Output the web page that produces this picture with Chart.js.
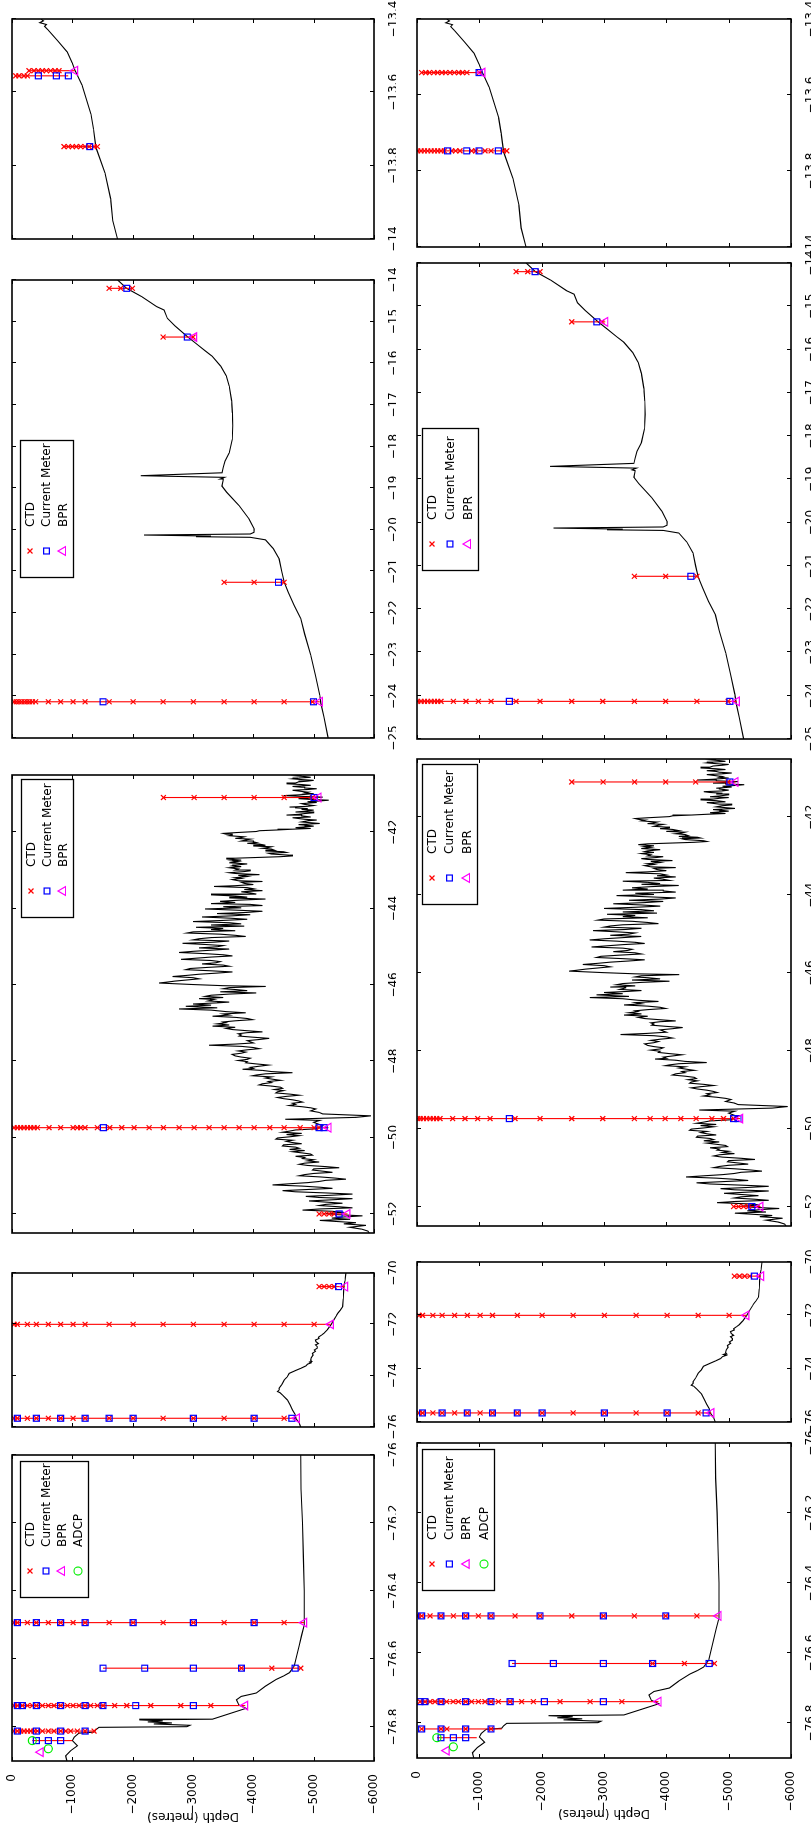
<!DOCTYPE html>
<html>
<head>
<meta charset="utf-8">
<script src="https://cdn.jsdelivr.net/npm/chart.js@4.4.1/dist/chart.umd.min.js"></script>
<style>
  html, body { margin: 0; padding: 0; background: #fff; overflow: hidden; width: 811px; height: 1831px; }
  /* the figure is laid out landscape and turned a quarter turn, like the original */
  #fig { position: absolute; left: 0; top: 0; width: 1831px; height: 811px; background: #fff;
         transform-origin: 0 0; transform: translate(0px, 1831px) rotate(-90deg); }
  #fig canvas { position: absolute; }
</style>
</head>
<body>
<div id="fig"></div>
<script>
// ---- axes ----
const lonRanges = [[-76.9, -76], [-76, -70], [-52.5, -40.5], [-25, -14], [-14, -13.4]];
const lonTicks = [
  [-76.8, -76.6, -76.4, -76.2, -76],
  [-76, -74, -72, -70],
  [-52, -50, -48, -46, -44, -42],
  [-25, -24, -23, -22, -21, -20, -19, -18, -17, -16, -15, -14],
  [-14, -13.8, -13.6, -13.4]
];
const depthTicks = [0, -1000, -2000, -3000, -4000, -5000, -6000];

// ---- bathymetry, [longitude, depth in metres] ----
const bathy = [
  // -76.9 .. -76
  [-76.900, 910], [-76.885, 890], [-76.870, 970], [-76.855, 1085], [-76.840, 1000], [-76.830, 1030],
  [-76.818, 1110], [-76.815, 1360], [-76.808, 1390], [-76.801, 1440], [-76.799, 2900], [-76.795, 2950],
  [-76.791, 2350], [-76.788, 2650], [-76.785, 2250], [-76.782, 2500], [-76.779, 2110], [-76.777, 3320],
  [-76.745, 3880], [-76.735, 3760], [-76.720, 3720], [-76.710, 3800], [-76.700, 4050], [-76.680, 4200],
  [-76.660, 4380], [-76.650, 4500], [-76.640, 4600], [-76.620, 4680], [-76.590, 4720], [-76.560, 4760],
  [-76.530, 4800], [-76.500, 4845], [-76.400, 4845], [-76.300, 4830], [-76.200, 4815], [-76.100, 4790],
  [-76.000, 4785],
  // -76 .. -70
  [-75.85, 4760], [-75.66, 4705], [-75.50, 4690], [-75.34, 4650], [-75.15, 4610], [-74.95, 4566],
  [-74.75, 4483], [-74.66, 4440], [-74.62, 4400], [-74.55, 4430], [-74.49, 4428], [-74.35, 4470],
  [-74.17, 4511], [-74.05, 4560], [-73.91, 4595], [-73.80, 4700], [-73.71, 4790], [-73.62, 4870],
  [-73.55, 4900], [-73.50, 4960], [-73.47, 4920], [-73.45, 4970], [-73.40, 4950], [-73.30, 4960],
  [-73.20, 4990], [-73.13, 4980], [-73.05, 5030], [-73.00, 5010], [-72.93, 5060], [-72.87, 5060],
  [-72.80, 5030], [-72.75, 5080], [-72.68, 5040], [-72.61, 5030], [-72.55, 5090], [-72.50, 5080],
  [-72.42, 5130], [-72.35, 5170], [-72.20, 5230], [-72.00, 5290], [-71.80, 5340], [-71.65, 5380],
  [-71.57, 5400], [-71.45, 5440], [-71.31, 5480], [-71.00, 5490], [-70.52, 5500], [-70.30, 5520],
  [-70.00, 5534],
  // -52.5 .. -40.5
  [-52.50, 5920], [-52.45, 5900], [-52.40, 5800], [-52.35, 5600], [-52.30, 5865], [-52.26, 5500],
  [-52.23, 5700], [-52.20, 5400], [-52.17, 5100], [-52.14, 5600], [-52.11, 5300], [-52.08, 5500],
  [-52.05, 5810], [-52.02, 5400], [-51.99, 5200], [-51.96, 5500], [-51.93, 5300], [-51.90, 4815],
  [-51.87, 5100], [-51.84, 5644], [-51.81, 5400], [-51.78, 5091], [-51.75, 5200], [-51.72, 5478],
  [-51.69, 5200], [-51.66, 4925], [-51.63, 5300], [-51.60, 5644], [-51.57, 5100], [-51.54, 4870],
  [-51.51, 5300], [-51.48, 5644], [-51.45, 5200], [-51.42, 4700], [-51.39, 4483], [-51.36, 4900],
  [-51.33, 5312], [-51.30, 5100], [-51.27, 4800], [-51.24, 4317], [-51.21, 4600], [-51.18, 4900],
  [-51.15, 5091], [-51.12, 5200], [-51.09, 5534], [-51.06, 5350], [-51.03, 5100], [-51.00, 4760],
  [-50.97, 4850], [-50.94, 5000], [-50.91, 5312], [-50.88, 5150], [-50.85, 4981], [-50.82, 5000],
  [-50.79, 5423], [-50.76, 5200], [-50.73, 4900], [-50.70, 4760], [-50.67, 4850], [-50.64, 5091],
  [-50.61, 4900], [-50.58, 5000], [-50.55, 4815], [-50.52, 4850], [-50.49, 4700], [-50.46, 4981],
  [-50.43, 4950], [-50.40, 4800], [-50.37, 4649], [-50.34, 4850], [-50.31, 4600], [-50.28, 4760],
  [-50.25, 4700], [-50.22, 4483], [-50.19, 4500], [-50.16, 4800], [-50.13, 4649], [-50.10, 4550],
  [-50.07, 4650], [-50.04, 4373], [-50.01, 4400], [-49.98, 4600], [-49.95, 4760], [-49.92, 4550],
  [-49.89, 4800], [-49.86, 4483], [-49.83, 4600], [-49.80, 4700], [-49.77, 5036], [-49.69, 5150],
  [-49.60, 5000], [-49.55, 5100], [-49.52, 4530], [-49.47, 5700], [-49.43, 5948], [-49.38, 5150],
  [-49.34, 5091], [-49.30, 4950], [-49.25, 5036], [-49.22, 4950], [-49.19, 4800], [-49.16, 4594],
  [-49.13, 4700], [-49.10, 4650], [-49.07, 4815], [-49.04, 4750], [-49.01, 4650], [-48.98, 4500],
  [-48.95, 4400], [-48.92, 4550], [-48.89, 4760], [-48.86, 4600], [-48.83, 4373], [-48.80, 4400],
  [-48.77, 4500], [-48.74, 4350], [-48.71, 4483], [-48.68, 4450], [-48.65, 4300], [-48.62, 4096],
  [-48.59, 4150], [-48.56, 4300], [-48.53, 4250], [-48.50, 4450], [-48.47, 4317], [-48.44, 4200],
  [-48.41, 4300], [-48.38, 3986], [-48.36, 4050], [-48.33, 4200], [-48.30, 4649], [-48.27, 4300],
  [-48.24, 4150], [-48.21, 3820], [-48.19, 4000], [-48.16, 3950], [-48.13, 4100], [-48.10, 4250],
  [-48.07, 4050], [-48.04, 3875], [-48.01, 3900], [-47.98, 3750], [-47.95, 3900], [-47.92, 3950],
  [-47.89, 3800], [-47.86, 3700], [-47.82, 3650], [-47.79, 3800], [-47.76, 3875], [-47.73, 3750],
  [-47.70, 3900], [-47.67, 4096], [-47.64, 4000], [-47.61, 3800], [-47.58, 3267], [-47.55, 3700],
  [-47.52, 4000], [-47.49, 3950], [-47.46, 3900], [-47.43, 4100], [-47.40, 4262], [-47.37, 4000],
  [-47.34, 3765], [-47.31, 3800], [-47.28, 3750], [-47.25, 3900], [-47.23, 4150], [-47.20, 3900],
  [-47.17, 3654], [-47.14, 3550], [-47.11, 3700], [-47.08, 3322], [-47.05, 3600], [-47.02, 3400],
  [-46.99, 3543], [-46.97, 3500], [-46.94, 3700], [-46.91, 3986], [-46.88, 3900], [-46.85, 3700],
  [-46.82, 3322], [-46.79, 3600], [-46.76, 3500], [-46.73, 3875], [-46.70, 3550], [-46.66, 3300],
  [-46.63, 2770], [-46.60, 3400], [-46.56, 2880], [-46.53, 3300], [-46.50, 3000], [-46.47, 3400],
  [-46.45, 3600], [-46.42, 3250], [-46.38, 3350], [-46.36, 3100], [-46.33, 3500], [-46.30, 3200],
  [-46.27, 3300], [-46.24, 3600], [-46.21, 4050], [-46.18, 3450], [-46.15, 3900], [-46.12, 3700],
  [-46.10, 3500], [-46.07, 3600], [-46.04, 4207], [-46.02, 3500], [-45.99, 3000], [-45.95, 2438],
  [-45.93, 2550], [-45.90, 2700], [-45.87, 2900], [-45.84, 3101], [-45.81, 3000], [-45.78, 2659],
  [-45.75, 2900], [-45.72, 3100], [-45.69, 3400], [-45.66, 3654], [-45.63, 3300], [-45.60, 2880],
  [-45.57, 2950], [-45.54, 3250], [-45.51, 3599], [-45.48, 3500], [-45.45, 3150], [-45.42, 3378],
  [-45.39, 3450], [-45.36, 3300], [-45.33, 2800], [-45.30, 3050], [-45.27, 3300], [-45.24, 3654],
  [-45.21, 3500], [-45.18, 3200], [-45.15, 2770], [-45.12, 3000], [-45.09, 3300], [-45.06, 3599],
  [-45.03, 3100], [-45.00, 3400], [-44.97, 3500], [-44.94, 3200], [-44.91, 2825], [-44.88, 3350],
  [-44.85, 3600], [-44.82, 3000], [-44.79, 3100], [-44.76, 3300], [-44.73, 3875], [-44.70, 3700],
  [-44.67, 3450], [-44.64, 2900], [-44.61, 3000], [-44.58, 3700], [-44.55, 3300], [-44.52, 3500],
  [-44.49, 3050], [-44.46, 3850], [-44.43, 3300], [-44.40, 3800], [-44.37, 3600], [-44.34, 3000],
  [-44.31, 3500], [-44.28, 3900], [-44.25, 3600], [-44.22, 3150], [-44.19, 3650], [-44.16, 3950],
  [-44.13, 3400], [-44.10, 3900], [-44.07, 4150], [-44.04, 3700], [-44.01, 3200], [-43.98, 3800],
  [-43.95, 3500], [-43.92, 4150], [-43.89, 3950], [-43.87, 3300], [-43.84, 3700], [-43.81, 3450],
  [-43.78, 3750], [-43.75, 4200], [-43.72, 3600], [-43.70, 3900], [-43.67, 3700], [-43.64, 3300],
  [-43.62, 4050], [-43.59, 3950], [-43.56, 3800], [-43.53, 4150], [-43.50, 3850], [-43.48, 4000],
  [-43.45, 3900], [-43.42, 3350], [-43.40, 3700], [-43.37, 4000], [-43.34, 3850], [-43.31, 3800],
  [-43.29, 4150], [-43.27, 3750], [-43.24, 3650], [-43.21, 3800], [-43.19, 3700], [-43.16, 3900],
  [-43.13, 3750], [-43.11, 4100], [-43.08, 3700], [-43.06, 3600], [-43.03, 3850], [-43.01, 3950],
  [-42.99, 3700], [-42.96, 3750], [-42.93, 3600], [-42.90, 3800], [-42.88, 3650], [-42.86, 3700],
  [-42.83, 3900], [-42.80, 3600], [-42.77, 3750], [-42.75, 3650], [-42.73, 3800], [-42.70, 3550],
  [-42.68, 3700], [-42.64, 4450], [-42.62, 4650], [-42.60, 4600], [-42.57, 4300], [-42.55, 4250],
  [-42.53, 4550], [-42.51, 4500], [-42.49, 4200], [-42.47, 4350], [-42.44, 4300], [-42.42, 4150],
  [-42.40, 4250], [-42.38, 4300], [-42.36, 4000], [-42.34, 4200], [-42.31, 4100], [-42.29, 3900],
  [-42.27, 4050], [-42.25, 4000], [-42.23, 3800], [-42.21, 3850], [-42.18, 3950], [-42.16, 3700],
  [-42.14, 3800], [-42.12, 3850], [-42.09, 3600], [-42.07, 3650], [-42.05, 3550], [-42.03, 3500],
  [-42.01, 3700], [-41.98, 4050], [-41.96, 4100], [-41.94, 4400], [-41.92, 4650], [-41.90, 4950],
  [-41.88, 4700], [-41.86, 4850], [-41.84, 5000], [-41.82, 4900], [-41.80, 4750], [-41.77, 5100],
  [-41.75, 4950], [-41.73, 4800], [-41.70, 4900], [-41.68, 5050], [-41.66, 4850], [-41.64, 4750],
  [-41.62, 4650], [-41.60, 4950], [-41.57, 4800], [-41.55, 4550], [-41.53, 4750], [-41.51, 4850],
  [-41.49, 5000], [-41.47, 4700], [-41.45, 4850], [-41.42, 5000], [-41.40, 4800], [-41.38, 4900],
  [-41.36, 4700], [-41.34, 4600], [-41.32, 4900], [-41.30, 5000], [-41.27, 4850], [-41.25, 4800],
  [-41.22, 5050], [-41.20, 4900], [-41.18, 5100], [-41.16, 5250], [-41.14, 4950], [-41.12, 4750],
  [-41.10, 4950], [-41.08, 5150], [-41.06, 4800], [-41.04, 4500], [-41.02, 4750], [-40.99, 5000],
  [-40.97, 4850], [-40.95, 4900], [-40.92, 4750], [-40.90, 4650], [-40.88, 4900], [-40.86, 5050],
  [-40.84, 4850], [-40.82, 4800], [-40.80, 4650], [-40.77, 4950], [-40.75, 4800], [-40.73, 4550],
  [-40.71, 4700], [-40.68, 4750], [-40.66, 4900], [-40.64, 5000], [-40.62, 4800], [-40.60, 4650],
  [-40.58, 4750], [-40.56, 4950], [-40.54, 4850], [-40.52, 4700], [-40.50, 4800],
  // -25 .. -14
  [-25.00, 5240], [-24.50, 5170], [-24.17, 5120], [-23.97, 5100], [-23.50, 5030], [-23.01, 4953],
  [-22.50, 4850], [-22.13, 4787], [-21.82, 4677], [-21.50, 4580], [-21.26, 4511], [-21.00, 4470],
  [-20.70, 4428], [-20.45, 4330], [-20.24, 4200], [-20.18, 3950], [-20.165, 3050], [-20.15, 3300],
  [-20.125, 2190], [-20.10, 3950], [-20.06, 4010], [-19.98, 4013], [-19.74, 3930], [-19.42, 3764],
  [-19.10, 3560], [-18.95, 3480], [-18.80, 3500], [-18.78, 3450], [-18.74, 3520], [-18.70, 2134],
  [-18.63, 3480], [-18.50, 3500], [-18.35, 3530], [-18.15, 3600], [-17.83, 3650], [-17.50, 3660],
  [-17.19, 3653], [-16.90, 3640], [-16.55, 3600], [-16.30, 3550], [-16.07, 3460], [-15.83, 3317],
  [-15.70, 3200], [-15.52, 3046], [-15.36, 2907], [-15.10, 2700], [-14.92, 2575], [-14.72, 2520],
  [-14.64, 2400], [-14.40, 2150], [-14.20, 1900], [-14.00, 1750],
  // -14 .. -13.4
  [-13.95, 1670], [-13.89, 1635], [-13.82, 1540], [-13.75, 1390], [-13.70, 1350], [-13.66, 1310],
  [-13.62, 1235], [-13.58, 1160], [-13.54, 1045], [-13.52, 1000], [-13.49, 915], [-13.46, 760],
  [-13.43, 600], [-13.42, 540], [-13.415, 570], [-13.41, 460], [-13.405, 520], [-13.40, 480]
];

// ---- moorings, upper row: [longitude, top depth, bottom depth] and [longitude, [depths]] ----
const mooringsTop = [
  [-13.541, 282, 1045], [-13.555, 61, 934], [-13.748, 862, 1415],
  [-14.2, 1609, 1995], [-15.37, 2504, 3018], [-21.26, 3516, 4511], [-24.13, 33, 5102],
  [-41.09, 2510, 5080], [-49.74, 33, 5246], [-52.0, 5090, 5560],
  [-70.53, 5091, 5520], [-72.0, 33, 5285], [-75.66, 33, 4721],
  [-76.493, 33, 4843], [-76.627, 1509, 4787], [-76.737, 33, 3864], [-76.812, 33, 1390], [-76.84, 337, 1000]
];
const ctdTop = [
  [-13.541, [282, 365, 436, 502, 569, 641, 713, 780]],
  [-13.555, [61, 116, 199, 254]],
  [-13.748, [862, 934, 1000, 1066, 1139, 1211, 1277, 1360, 1415]],
  [-14.2, [1609, 1802, 1995]],
  [-15.37, [2504, 3000]],
  [-21.26, [3516, 4013, 4511]],
  [-24.13, [33, 72, 116, 160, 205, 249, 293, 337, 392, 602, 807, 1012, 1211, 1609, 2007, 2504, 3007, 3516, 4013, 4511, 4980]],
  [-41.09, [2510, 3018, 3516, 4013, 4511, 4980]],
  [-49.74, [33, 88, 144, 199, 254, 310, 365, 420, 614, 807, 1012, 1083, 1139, 1211, 1415, 1620, 1819, 2023, 2272, 2510, 2770, 3018, 3267, 3516, 3764, 4013, 4273, 4511, 4776, 5008, 5091]],
  [-52.0, [5090, 5174, 5257, 5340]],
  [-70.53, [5091, 5174, 5257, 5340]],
  [-72.0, [33, 88, 254, 403, 602, 807, 1012, 1211, 1609, 2007, 2504, 3007, 3516, 4013, 4511, 5008]],
  [-75.66, [33, 88, 254, 403, 602, 807, 1012, 1211, 1609, 2007, 2504, 3007, 3516, 4013, 4511]],
  [-76.493, [33, 88, 254, 403, 602, 807, 1012, 1211, 1609, 2007, 2504, 3007, 3516, 4013, 4511]],
  [-76.627, [3803, 4306, 4787]],
  [-76.737, [33, 88, 171, 254, 337, 403, 503, 602, 696, 807, 918, 1012, 1111, 1211, 1304, 1415, 1509, 1702, 1902, 2300, 2797, 3295]],
  [-76.812, [33, 88, 144, 199, 254, 310, 365, 420, 503, 602, 696, 807, 890, 973, 1083, 1211, 1360]]
];
const cmTop = [
  [-13.555, [436, 735, 934]], [-13.748, [1288]], [-14.2, [1902]], [-15.37, [2905]], [-21.26, [4417]],
  [-24.13, [1509, 4997]], [-41.09, [5008]], [-49.74, [1514, 5091, 5174]], [-52.0, [5423]], [-70.53, [5412]],
  [-75.66, [88, 403, 807, 1211, 1609, 2007, 3007, 4013, 4638]],
  [-76.493, [88, 403, 807, 1211, 2007, 3007, 4013]],
  [-76.627, [1509, 2200, 3007, 3803, 4693]],
  [-76.737, [88, 171, 403, 807, 1211, 1509, 2051, 3007]],
  [-76.812, [88, 403, 807, 1211]], [-76.84, [403, 602, 807]]
];
const bprTop = [
  [-13.541, [1045]], [-15.37, [3018]], [-24.13, [5102]], [-41.09, [5080]], [-49.74, [5246]], [-52.0, [5560]],
  [-70.53, [5520]], [-72.0, [5285]], [-75.66, [4721]], [-76.493, [4843]], [-76.737, [3864]], [-76.874, [476]]
];
const adcpTop = [[-76.84, [337]], [-76.864, [602]]];

// ---- moorings, lower row ----
const mooringsBottom = [
  [-13.541, 75, 1048], [-13.747, 11, 1440],
  [-14.2, 1589, 1974], [-15.36, 2483, 3020], [-21.24, 3488, 4490], [-24.13, 11, 5131],
  [-41.09, 2483, 5110], [-49.74, 10, 5185], [-52.0, 5080, 5510],
  [-70.53, 5091, 5520], [-72.0, 33, 5285], [-75.66, 33, 4721],
  [-76.494, 21, 4837], [-76.63, 1525, 4772], [-76.739, 48, 3874], [-76.817, 75, 1360], [-76.842, 320, 960]
];
const ctdBottom = [
  [-13.541, [75, 140, 200, 270, 330, 400, 460, 530, 600, 670, 730, 800, 1000]],
  [-13.747, [11, 64, 118, 171, 225, 278, 332, 385, 439, 557, 620, 690, 877, 942, 1091, 1188, 1386, 1440]],
  [-14.2, [1589, 1777, 1974]], [-15.36, [2483, 2970]], [-21.24, [3488, 3990, 4490]],
  [-24.13, [11, 64, 118, 171, 225, 278, 332, 385, 583, 786, 984, 1188, 1589, 1974, 2483, 2980, 3488, 3990, 4490, 4990]],
  [-41.09, [2483, 2986, 3490, 3990, 4470, 4990]],
  [-49.74, [10, 48, 102, 155, 209, 262, 316, 369, 573, 770, 974, 1172, 1573, 1974, 2483, 2980, 3488, 3740, 3981, 4232, 4478, 4730, 4917, 5078]],
  [-52.0, [5080, 5160, 5240, 5320]],
  [-70.53, [5091, 5174, 5257, 5340]],
  [-72.0, [33, 88, 254, 403, 602, 807, 1012, 1211, 1609, 2007, 2504, 3007, 3516, 4013, 4511, 5008]],
  [-75.66, [33, 88, 254, 403, 602, 807, 1012, 1211, 1609, 2007, 2504, 3007, 3516, 4013, 4511]],
  [-76.494, [21, 75, 209, 385, 583, 781, 984, 1188, 1573, 1974, 2483, 2991, 3488, 3990, 4490]],
  [-76.63, [3780, 4291, 4772]],
  [-76.739, [48, 128, 209, 289, 385, 476, 580, 663, 781, 877, 984, 1091, 1188, 1305, 1493, 1680, 1867, 2295, 2777, 3286]],
  [-76.817, [75, 385, 480, 781, 1188]]
];
const cmBottom = [
  [-13.541, [995]], [-13.747, [492, 798, 995, 1305]], [-14.2, [1894]], [-15.36, [2884]], [-21.24, [4393]],
  [-24.13, [1482, 5020]], [-41.09, [5020]], [-49.74, [1482, 5078, 5150]], [-52.0, [5373]], [-70.53, [5412]],
  [-75.66, [88, 403, 807, 1211, 1609, 2007, 3007, 4013, 4638]],
  [-76.494, [75, 385, 781, 1188, 1974, 2991, 3990]],
  [-76.63, [1525, 2188, 2991, 3780, 4687]],
  [-76.739, [48, 128, 385, 781, 1188, 1493, 2043, 2991]],
  [-76.817, [75, 385, 781, 1188]], [-76.842, [385, 583, 781]]
];
const bprBottom = [
  [-13.541, [1048]], [-15.36, [3020]], [-24.13, [5131]], [-41.09, [5110]], [-49.74, [5185]], [-52.0, [5510]],
  [-70.53, [5520]], [-72.0, [5285]], [-75.66, [4721]], [-76.494, [4837]], [-76.739, [3874]], [-76.879, [476]]
];
const adcpBottom = [[-76.842, [320]], [-76.868, [583]]];

const instrumentLabels = ['CTD', 'Current Meter', 'BPR', 'ADCP'];

// ---- layout (pixels in the unrotated 1831x811 figure) ----
const rows = [
  { top: 12, bottom: 374,
    cols: [[70, 376], [404, 558], [598, 1056], [1093, 1551], [1592, 1812]],
    legends: [[163, 8, 136, 68, 4], null, [315, 9, 138, 52, 3], [160, 8, 137, 53, 3], null],
    moor: mooringsTop, ctd: ctdTop, cm: cmTop, bpr: bprTop, adcp: adcpTop },
  { top: 417, bottom: 791,
    cols: [[73, 388], [409, 569], [605, 1072], [1092, 1568], [1584, 1812]],
    legends: [[167, 5, 141, 72, 4], null, [321, 5, 140, 55, 3], [168, 5, 142, 56, 3], null],
    moor: mooringsBottom, ctd: ctdBottom, cm: cmBottom, bpr: bprBottom, adcp: adcpBottom }
];
const PAD = 24, Y_AXIS_W = 64, X_AXIS_H = 22;

Chart.defaults.font.family = 'DejaVu Sans';
Chart.defaults.font.size = 12;
Chart.defaults.color = '#000';

const markers = [
  { pointStyle: 'crossRot', pointRadius: 3.5, borderColor: '#ff0000', borderWidth: 1.2 },
  { pointStyle: 'rect', pointRadius: 4.2, borderColor: '#0000ff', borderWidth: 1.2 },
  { pointStyle: 'triangle', pointRadius: 5, borderColor: '#ff00ff', borderWidth: 1.2 },
  { pointStyle: 'circle', pointRadius: 4, borderColor: '#00ee00', borderWidth: 1.2 }
];

function groupPts(groups) {
  const out = [];
  groups.forEach(([lon, ds]) => ds.forEach(d => out.push({ x: lon, y: -d })));
  return out;
}
function linePts(lines) {
  const out = [];
  lines.forEach(([lon, a, b]) => out.push({ x: lon, y: -a }, { x: lon, y: -b }, { x: lon, y: null }));
  return out;
}
const fmt = v => (v < 0 ? '\u2212' + Math.abs(v) : String(v));

// box with inward ticks on all four sides, plus the inset legend
function makeFrame(legend) {
  return {
    id: 'frame',
    afterDraw(chart) {
      const { ctx, chartArea: a } = chart;
      const xs = chart.scales.x, ys = chart.scales.y;
      ctx.save();
      ctx.strokeStyle = '#000';
      ctx.lineWidth = 1;
      ctx.beginPath();
      xs.ticks.forEach(t => {
        const px = Math.round(xs.getPixelForValue(t.value)) + 0.5;
        ctx.moveTo(px, a.top); ctx.lineTo(px, a.top + 4);
        ctx.moveTo(px, a.bottom); ctx.lineTo(px, a.bottom - 4);
      });
      depthTicks.forEach(v => {
        const py = Math.round(ys.getPixelForValue(v)) + 0.5;
        ctx.moveTo(a.left, py); ctx.lineTo(a.left + 4, py);
        ctx.moveTo(a.right, py); ctx.lineTo(a.right - 4, py);
      });
      ctx.stroke();
      ctx.lineWidth = 1.6;
      ctx.strokeRect(a.left, a.top, a.right - a.left, a.bottom - a.top);

      if (legend) {
        const [lx, ly, lw, lh, n] = legend;
        const x0 = a.left + lx, y0 = a.top + ly;
        ctx.fillStyle = '#fff';
        ctx.fillRect(x0, y0, lw, lh);
        ctx.lineWidth = 1.3;
        ctx.strokeRect(x0 + 0.5, y0 + 0.5, lw, lh);
        const step = (lh - 20) / (n - 1);
        ctx.font = '12px "DejaVu Sans"';
        ctx.textBaseline = 'middle';
        for (let i = 0; i < n; i++) {
          const cy = y0 + 10 + i * step;
          const m = markers[i];
          ctx.strokeStyle = m.borderColor;
          ctx.fillStyle = 'rgba(0,0,0,0)';
          ctx.lineWidth = m.borderWidth;
          Chart.helpers.drawPoint(ctx, { pointStyle: m.pointStyle, radius: m.pointRadius, rotation: 0, borderWidth: m.borderWidth }, x0 + 27, cy);
          ctx.fillStyle = '#000';
          ctx.fillText(instrumentLabels[i], x0 + 51, cy + 0.5);
        }
      }
      ctx.restore();
    }
  };
}

const fig = document.getElementById('fig');

rows.forEach(row => {
  const datasets = [
    { data: bathy.map(([x, d]) => ({ x, y: -d })), showLine: true, borderColor: '#000', borderWidth: 1.1, pointRadius: 0, order: 6 },
    { data: linePts(row.moor), showLine: true, borderColor: '#ff0000', borderWidth: 1.1, pointRadius: 0, order: 5 },
    { label: instrumentLabels[0], data: groupPts(row.ctd), ...markers[0], backgroundColor: 'rgba(0,0,0,0)', order: 4 },
    { label: instrumentLabels[1], data: groupPts(row.cm), ...markers[1], backgroundColor: 'rgba(0,0,0,0)', order: 3 },
    { label: instrumentLabels[2], data: groupPts(row.bpr), ...markers[2], backgroundColor: 'rgba(0,0,0,0)', order: 2 },
    { label: instrumentLabels[3], data: groupPts(row.adcp), ...markers[3], backgroundColor: 'rgba(0,0,0,0)', order: 1 }
  ];

  row.cols.forEach(([x0, x1], i) => {
    const first = i === 0;
    const yW = first ? Y_AXIS_W : 0;
    const cv = document.createElement('canvas');
    const w = (x1 - x0) + 2 * PAD + yW;
    const h = (row.bottom - row.top) + 2 * PAD + X_AXIS_H;
    cv.width = w; cv.height = h;
    cv.style.width = w + 'px'; cv.style.height = h + 'px';
    cv.style.left = (x0 - PAD - yW) + 'px';
    cv.style.top = (row.top - PAD) + 'px';
    fig.appendChild(cv);

    new Chart(cv, {
      type: 'scatter',
      data: { datasets: datasets.map(d => ({ ...d })) },
      options: {
        responsive: false,
        animation: false,
        events: [],
        layout: { padding: PAD },
        plugins: { legend: { display: false }, tooltip: { enabled: false } },
        scales: {
          x: {
            type: 'linear', min: lonRanges[i][0], max: lonRanges[i][1],
            grid: { display: false }, border: { display: false },
            ticks: { padding: 5, autoSkip: false, maxRotation: 0, minRotation: 0, callback: v => fmt(v) },
            afterBuildTicks: s => { s.ticks = lonTicks[i].map(v => ({ value: v })); },
            afterFit: s => { s.height = X_AXIS_H; }
          },
          y: {
            type: 'linear', min: -6000, max: 0, display: first,
            grid: { display: false }, border: { display: false },
            ticks: { padding: 5, callback: v => fmt(v) },
            title: { display: first, text: 'Depth (metres)', padding: { top: 2, bottom: 0 } },
            afterBuildTicks: s => { s.ticks = depthTicks.map(v => ({ value: v })); },
            afterFit: s => { s.width = yW; }
          }
        }
      },
      plugins: [makeFrame(row.legends[i])]
    });
  });
});
</script>
</body>
</html>
